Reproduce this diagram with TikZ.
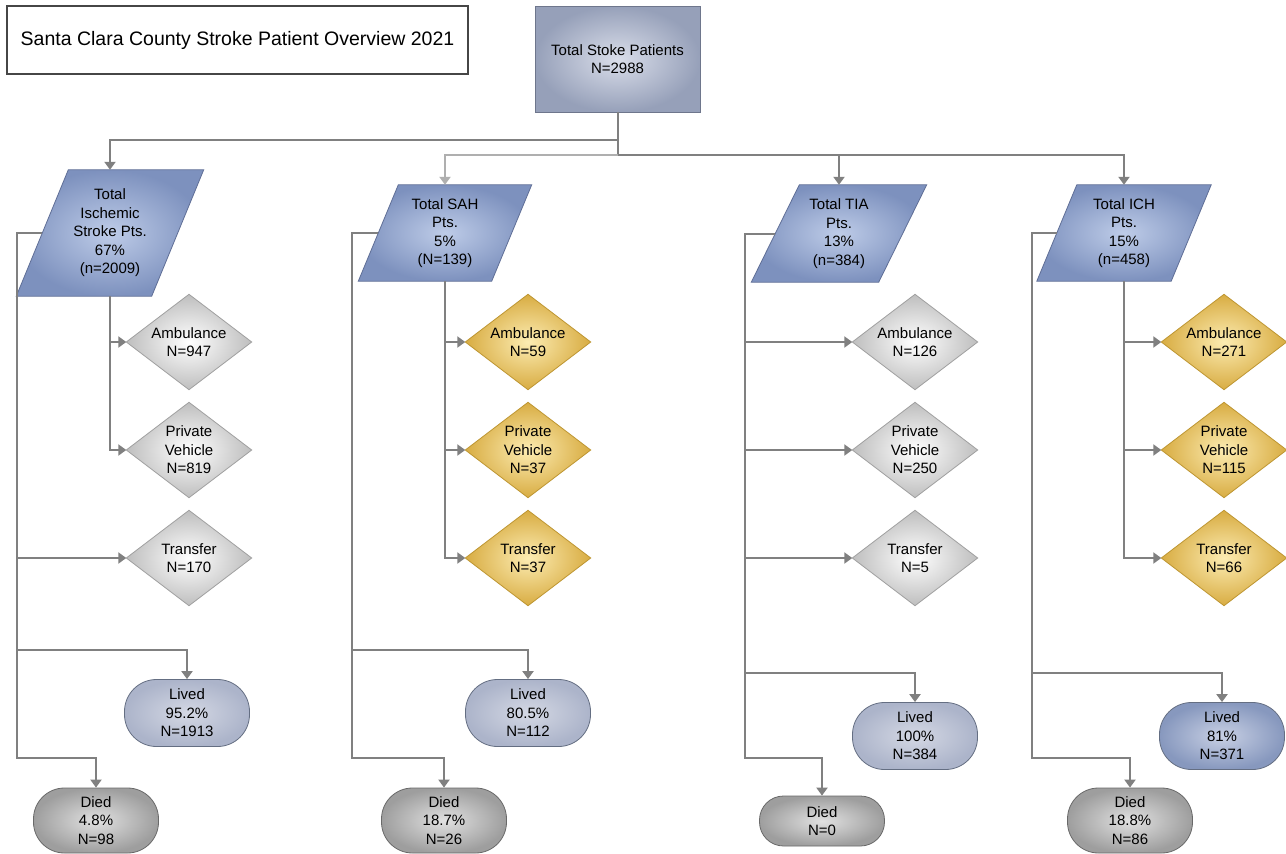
\documentclass[tikz,border=0pt]{standalone}
\usepackage{fontspec}
\setmainfont{Liberation Sans}
\usetikzlibrary{arrows.meta,calc,backgrounds}
\definecolor{lineg}{RGB}{128,128,128}
\definecolor{lightg}{RGB}{175,175,175}
\definecolor{titleb}{RGB}{70,70,70}
\definecolor{topi}{RGB}{218,222,234}
\definecolor{topo}{RGB}{150,160,185}
\definecolor{topb}{RGB}{110,118,140}
\definecolor{parai}{RGB}{190,204,232}
\definecolor{parao}{RGB}{125,145,190}
\definecolor{parab}{RGB}{95,110,150}
\definecolor{whi}{RGB}{255,255,255}
\definecolor{who}{RGB}{190,190,190}
\definecolor{whb}{RGB}{160,160,160}
\definecolor{goi}{RGB}{252,236,178}
\definecolor{goo}{RGB}{216,172,66}
\definecolor{gob}{RGB}{190,150,50}
\definecolor{livi}{RGB}{212,216,228}
\definecolor{livo}{RGB}{172,180,202}
\definecolor{livb}{RGB}{100,110,130}
\definecolor{liv4i}{RGB}{200,208,228}
\definecolor{liv4o}{RGB}{135,152,190}
\definecolor{diei}{RGB}{225,225,225}
\definecolor{dieo}{RGB}{158,158,158}
\definecolor{dieb}{RGB}{105,105,105}
\newcommand\parashape[2]{\path[paraf] ($(#1.north west)+(#2,0)$) -- ($(#1.north east)+(#2,0)$) -- ($(#1.south east)+(-#2,0)$) -- ($(#1.south west)+(-#2,0)$) -- cycle;}
\newcommand\diamshape[2]{\path[#2] (#1.north) -- (#1.east) -- (#1.south) -- (#1.west) -- cycle;}
\begin{document}
\begin{tikzpicture}[x=1pt,y=-1pt,
  txt/.style={font=\fontsize{15}{18.5}\selectfont, align=center, inner sep=0pt},
  conn/.style={draw=lineg, line width=2pt},
  arr/.style={conn, -{Triangle[width=11pt,length=8pt]}},
  paraf/.style={draw=parab, line width=0.8pt, inner color=parai, outer color=parao},
  whitef/.style={draw=whb, line width=0.8pt, inner color=whi, outer color=who},
  goldf/.style={draw=gob, line width=0.8pt, inner color=goi, outer color=goo},
  parabox/.style={txt, minimum width=#1},
  diambox/.style={txt, minimum width=125pt, minimum height=95pt},
  livedbox/.style={txt, draw=livb, line width=0.8pt, shade, inner color=livi, outer color=livo, rounded corners=32pt, minimum width=125pt, minimum height=67pt},
  diedbox/.style={txt, draw=dieb, line width=0.8pt, shade, inner color=diei, outer color=dieo, rounded corners=31pt, minimum width=125pt, minimum height=65pt}]
\useasboundingbox (0,0) rectangle (1286,854);

% title and top
\node[draw=titleb, line width=1.5pt, fill=white, minimum width=461pt, minimum height=68pt, inner sep=0pt, font=\fontsize{19.5}{22}\selectfont] (title) at (237.5,40) {Santa Clara County Stroke Patient Overview 2021};
\node[txt, draw=topb, line width=0.8pt, shade, inner color=topi, outer color=topo, minimum width=165pt, minimum height=106pt] (top) at (617.5,59) {Total Stoke Patients\\N=2988};

% category parallelograms
\node[parabox=135pt, minimum height=126pt] (isc) at (110,233) {Total\\Ischemic\\Stroke Pts.\\67\%\\(n=2009)};
\node[parabox=133pt, minimum height=96pt] (sah) at (445,233) {Total SAH\\Pts.\\5\%\\(N=139)};
\node[parabox=127pt, minimum height=97pt] (tia) at (839,233.5) {Total TIA\\Pts.\\13\%\\(n=384)};
\node[parabox=134pt, minimum height=96pt] (ich) at (1124,233) {Total ICH\\Pts.\\15\%\\(n=458)};

% diamonds
\node[diambox] (amb1) at (189,342) {Ambulance\\N=947};
\node[diambox] (pv1) at (189,450) {Private\\Vehicle\\N=819};
\node[diambox] (tr1) at (189,558) {Transfer\\N=170};
\node[diambox] (amb2) at (528,342) {Ambulance\\N=59};
\node[diambox] (pv2) at (528,450) {Private\\Vehicle\\N=37};
\node[diambox] (tr2) at (528,558) {Transfer\\N=37};
\node[diambox] (amb3) at (915,342) {Ambulance\\N=126};
\node[diambox] (pv3) at (915,450) {Private\\Vehicle\\N=250};
\node[diambox] (tr3) at (915,558) {Transfer\\N=5};
\node[diambox] (amb4) at (1224,342) {Ambulance\\N=271};
\node[diambox] (pv4) at (1224,450) {Private\\Vehicle\\N=115};
\node[diambox] (tr4) at (1224,558) {Transfer\\N=66};

% outcomes
\node[livedbox] (lived1) at (187,713) {Lived\\95.2\%\\N=1913};
\node[diedbox] (died1) at (96,820.5) {Died\\4.8\%\\N=98};
\node[livedbox] (lived2) at (528,713) {Lived\\80.5\%\\N=112};
\node[diedbox] (died2) at (444,820.5) {Died\\18.7\%\\N=26};
\node[livedbox] (lived3) at (915,736) {Lived\\100\%\\N=384};
\node[diedbox, minimum height=50pt, rounded corners=24pt] (died3) at (822,821) {Died\\N=0};
\node[livedbox, inner color=liv4i, outer color=liv4o] (lived4) at (1222,736) {Lived\\81\%\\N=371};
\node[diedbox] (died4) at (1130,820.5) {Died\\18.8\%\\N=86};

\begin{pgfonlayer}{background}
\fill[white] (0,0) rectangle (1286,854);
\parashape{isc}{26}
\parashape{sah}{20}
\parashape{tia}{24}
\parashape{ich}{20}
\diamshape{amb1}{whitef}
\diamshape{pv1}{whitef}
\diamshape{tr1}{whitef}
\diamshape{amb2}{goldf}
\diamshape{pv2}{goldf}
\diamshape{tr2}{goldf}
\diamshape{amb3}{whitef}
\diamshape{pv3}{whitef}
\diamshape{tr3}{whitef}
\diamshape{amb4}{goldf}
\diamshape{pv4}{goldf}
\diamshape{tr4}{goldf}
\end{pgfonlayer}

% connectors from top
\coordinate (hubA) at ($(top.south)+(0,28)$);
\coordinate (hubB) at ($(top.south)+(0,43)$);
\draw[conn] (top.south) -- (hubB);
\draw[arr] (hubA) -| (isc.north);
\draw[arr, draw=lightg] (hubB) -| (sah.north);
\draw[arr] (hubB) -| (tia.north);
\draw[arr] (hubB) -| (ich.north);

% ischemic
\coordinate (l1) at (17,650);
\coordinate (d1) at (17,758);
\draw[arr] (isc.west) -| (d1) -| (died1.north);
\draw[arr] (l1) -| (lived1.north);
\draw[arr] (l1 |- tr1.west) -- (tr1.west);
\draw[arr] (isc.south) |- (amb1.west);
\draw[arr] (isc.south) |- (pv1.west);

% SAH
\coordinate (l2) at (352,650);
\coordinate (d2) at (352,758);
\draw[arr] (sah.west) -| (d2) -| (died2.north);
\draw[arr] (l2) -| (lived2.north);
\draw[arr] (sah.south) |- (amb2.west);
\draw[arr] (sah.south) |- (pv2.west);
\draw[arr] (sah.south) |- (tr2.west);

% TIA
\coordinate (l3) at (745,673);
\coordinate (d3) at (745,758);
\draw[arr] (tia.west) -| (d3) -| (died3.north);
\draw[arr] (l3) -| (lived3.north);
\draw[arr] (l3 |- amb3.west) -- (amb3.west);
\draw[arr] (l3 |- pv3.west) -- (pv3.west);
\draw[arr] (l3 |- tr3.west) -- (tr3.west);

% ICH
\coordinate (l4) at (1032,673);
\coordinate (d4) at (1032,758);
\draw[arr] (ich.west) -| (d4) -| (died4.north);
\draw[arr] (l4) -| (lived4.north);
\draw[arr] (ich.south) |- (amb4.west);
\draw[arr] (ich.south) |- (pv4.west);
\draw[arr] (ich.south) |- (tr4.west);
\end{tikzpicture}
\end{document}
